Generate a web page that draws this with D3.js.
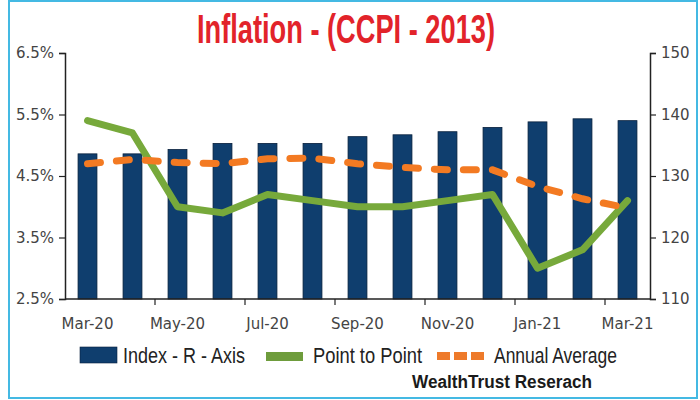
<!DOCTYPE html>
<html>
<head>
<meta charset="utf-8">
<script src="https://cdn.jsdelivr.net/npm/d3@7"></script>
<style>
  html, body { margin: 0; padding: 0; background: #fff; }
  svg { display: block; }
</style>
</head>
<body>
<svg id="chart" width="700" height="400"></svg>
<script>
// ---- data ----
const months = ["Mar-20","Apr-20","May-20","Jun-20","Jul-20","Aug-20","Sep-20","Oct-20","Nov-20","Dec-20","Jan-21","Feb-21","Mar-21"];
const indexValues = [133.6, 133.6, 134.3, 135.3, 135.3, 135.3, 136.4, 136.7, 137.2, 137.9, 138.8, 139.3, 139.0];
const pointToPoint = [5.4, 5.2, 4.0, 3.9, 4.2, 4.1, 4.0, 4.0, 4.1, 4.2, 3.0, 3.3, 4.1];
const annualAverage = [4.7, 4.77, 4.72, 4.7, 4.78, 4.79, 4.7, 4.64, 4.6, 4.6, 4.33, 4.13, 3.98];
const leftTicks = [2.5, 3.5, 4.5, 5.5, 6.5];
const rightTicks = [110, 120, 130, 140, 150];
const labelMonths = ["Mar-20","May-20","Jul-20","Sep-20","Nov-20","Jan-21","Mar-21"];

const svg = d3.select("#chart");
const L = 65, R = 650, T = 53, B = 299;

// border
svg.append("rect").attr("x", 9).attr("y", 1).attr("width", 688).attr("height", 397)
  .attr("fill", "#fff").attr("stroke", "#44b9e3").attr("stroke-width", 2);

// title
svg.append("text").attr("x", 346).attr("y", 43).attr("text-anchor", "middle")
  .attr("font-family", "'Liberation Sans Narrow', 'Liberation Sans', Arial, sans-serif")
  .attr("font-weight", "bold").attr("font-size", 40).attr("fill", "#e2232a")
  .attr("textLength", 298).attr("lengthAdjust", "spacingAndGlyphs")
  .text("Inflation - (CCPI - 2013)");

const x = d3.scaleBand().domain(months).range([L, R]).paddingInner(0.58).paddingOuter(0.29);
const yL = d3.scaleLinear().domain([2.5, 6.5]).range([B, T]);
const yR = d3.scaleLinear().domain([110, 150]).range([B, T]);
const cx = m => x(m) + x.bandwidth() / 2;

// bars
svg.append("g").selectAll("rect").data(months).join("rect")
  .attr("x", d => x(d)).attr("width", x.bandwidth())
  .attr("y", (d, i) => yR(indexValues[i]))
  .attr("height", (d, i) => B - yR(indexValues[i]))
  .attr("fill", "#0f3e6e").attr("stroke", "#08203d").attr("stroke-width", 0.8);

// lines
const lineL = d3.line().x((d, i) => cx(months[i])).y(d => yL(d));
svg.append("path").datum(pointToPoint).attr("d", lineL)
  .attr("fill", "none").attr("stroke", "#77a93b").attr("stroke-width", 7)
  .attr("stroke-linejoin", "round").attr("stroke-linecap", "round");
svg.append("path").datum(annualAverage).attr("d", lineL)
  .attr("fill", "none").attr("stroke", "#f37a22").attr("stroke-width", 7)
  .attr("stroke-dasharray", "13,16").attr("stroke-linecap", "round");

// axes
const fontAxis = "'DejaVu Sans', Verdana, sans-serif";
const gL = svg.append("g").attr("transform", `translate(${L},0)`)
  .call(d3.axisLeft(yL).tickValues(leftTicks).tickFormat(d => d.toFixed(1) + "%").tickSize(6).tickPadding(5));
const gR = svg.append("g").attr("transform", `translate(${R},0)`)
  .call(d3.axisRight(yR).tickValues(rightTicks).tickSize(6).tickPadding(5));
const gX = svg.append("g").attr("transform", `translate(0,${B})`)
  .call(d3.axisBottom(x).tickValues(labelMonths).tickSize(0).tickPadding(19));
gX.selectAll(".tick line").remove();
gX.select(".domain").attr("d", `M${L},0H${R}`);
// x tick marks at pair boundaries
const tickPos = labelMonths.slice(1).map(m => x(m) + x.bandwidth() / 2 - x.step() / 2);
svg.append("g").selectAll("line").data(tickPos).join("line")
  .attr("x1", d => d).attr("x2", d => d).attr("y1", B).attr("y2", B + 6)
  .attr("stroke", "#222").attr("stroke-width", 1.2);

[gL, gR, gX].forEach(g => {
  g.select(".domain").attr("stroke", "#222").attr("stroke-width", 1.5);
  g.selectAll(".tick line").attr("stroke", "#222").attr("stroke-width", 1.2);
  g.selectAll(".tick text").attr("font-family", fontAxis).attr("font-size", 15).attr("fill", "#444");
});

// legend
const fontLeg = "'Liberation Sans Narrow', 'Liberation Sans', Arial, sans-serif";
const leg = svg.append("g");
leg.append("rect").attr("x", 80).attr("y", 347).attr("width", 37).attr("height", 16).attr("fill", "#0f3e6e").attr("stroke", "#08203d").attr("stroke-width", 0.6);
leg.append("text").attr("x", 123).attr("y", 363).attr("font-family", fontLeg).attr("font-size", 22).attr("fill", "#222")
  .attr("textLength", 122).attr("lengthAdjust", "spacingAndGlyphs").text("Index - R - Axis");
leg.append("rect").attr("x", 266).attr("y", 352).attr("width", 37).attr("height", 9).attr("fill", "#6e9c3c");
leg.append("text").attr("x", 313).attr("y", 363).attr("font-family", fontLeg).attr("font-size", 22).attr("fill", "#222")
  .attr("textLength", 109).attr("lengthAdjust", "spacingAndGlyphs").text("Point to Point");
[437, 454, 471].forEach(px => leg.append("rect").attr("x", px).attr("y", 352).attr("width", 13).attr("height", 8).attr("fill", "#ee7a2a"));
leg.append("text").attr("x", 494).attr("y", 363).attr("font-family", fontLeg).attr("font-size", 22).attr("fill", "#222")
  .attr("textLength", 123).attr("lengthAdjust", "spacingAndGlyphs").text("Annual Average");
leg.append("text").attr("x", 412).attr("y", 388).attr("font-family", fontLeg).attr("font-weight", "bold").attr("font-size", 18).attr("fill", "#1a1a1a")
  .attr("textLength", 180).attr("lengthAdjust", "spacingAndGlyphs").text("WealthTrust Reserach");
</script>
</body>
</html>
